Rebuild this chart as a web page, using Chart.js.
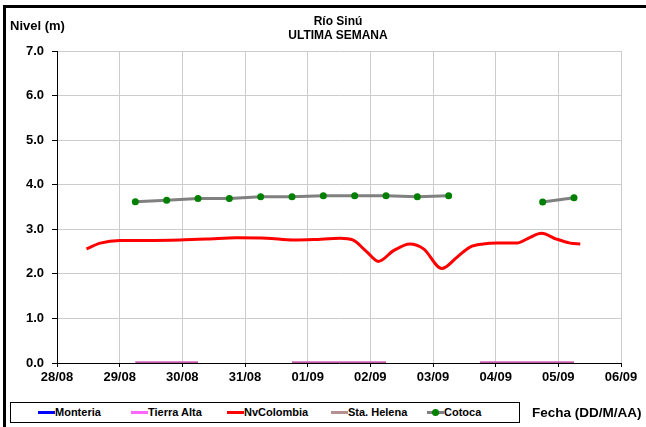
<!DOCTYPE html>
<html>
<head>
<meta charset="utf-8">
<script src="https://cdn.jsdelivr.net/npm/chart.js@4.4.1/dist/chart.umd.min.js"></script>
<style>
  html, body { margin: 0; padding: 0; background: #fff; }
  body { width: 646px; height: 427px; position: relative; overflow: hidden; font-family: "Liberation Sans", Arial, sans-serif; }
  #wrap { position: absolute; left: 0; top: 0; width: 646px; height: 427px; }
  .frameTop { position: absolute; left: 3px; top: 5px; width: 643px; height: 3px; background: #000; }
  .frameLeft { position: absolute; left: 3px; top: 5px; width: 3px; height: 422px; background: #000; }
  .txt { position: absolute; font-weight: bold; color: #000; white-space: nowrap; }
  #legend { position: absolute; left: 10px; top: 402px; width: 508px; height: 19px; border: 1px solid #000; background: #fff; }
  .item { position: absolute; top: 0; height: 19px; font-size: 11px; font-weight: bold; line-height: 19px; white-space: nowrap; }
  .sw { position: absolute; top: 8px; height: 3px; width: 17px; }
  .dot { position: absolute; top: -2px; left: 5px; width: 7px; height: 7px; border-radius: 50%; background: #008000; }
</style>
</head>
<body>
<div id="wrap"><canvas id="c" width="646" height="427"></canvas></div>
<div class="frameTop"></div>
<div class="frameLeft"></div>
<div class="txt" style="left:10px; top:18px; font-size:13px;">Nivel (m)</div>
<div class="txt" style="left:0; width:676px; text-align:center; top:14px; font-size:12px; line-height:14px;">Río Sinú<br>ULTIMA SEMANA</div>
<div id="legend"></div>
<div class="txt" style="left:532px; top:405px; font-size:13.5px;">Fecha (DD/M/AA)</div>
<script>
// ---- data ----
const xTickLabels = ['28/08','29/08','30/08','31/08','01/09','02/09','03/09','04/09','05/09','06/09'];
const yTickValues = [0, 1, 2, 3, 4, 5, 6, 7];

// days since 28/08 00:00
const nvColombiaDays   = [0.47, 0.69, 1.00, 1.43, 1.96, 2.39, 2.87, 3.35, 3.77, 4.09, 4.52, 4.72, 4.94, 5.13, 5.37, 5.63, 5.85, 6.14, 6.38, 6.59, 6.80, 7.02, 7.34, 7.55, 7.73, 7.97, 8.19, 8.35];
const nvColombiaLevels = [2.56, 2.69, 2.75, 2.75, 2.76, 2.78, 2.81, 2.80, 2.76, 2.77, 2.80, 2.76, 2.50, 2.28, 2.52, 2.67, 2.56, 2.12, 2.37, 2.60, 2.67, 2.69, 2.69, 2.82, 2.91, 2.78, 2.69, 2.67];

const halfDayTimes     = [1.25, 1.75, 2.25, 2.75, 3.25, 3.75, 4.25, 4.75, 5.25, 5.75, 6.25, 6.75, 7.25, 7.75, 8.25];
const cotocaLevels     = [3.62, 3.65, 3.69, 3.69, 3.73, 3.73, 3.75, 3.75, 3.75, 3.73, 3.75, null, null, 3.61, 3.71];
const tierraAltaLevels = [0, 0, 0, null, null, 0, 0, 0, 0, null, null, 0, 0, 0, 0];
const staHelenaLevels  = [0, 0, 0, null, null, 0, 0, 0, 0, null, null, 0, 0, 0, 0];
const monteriaLevels   = [];

function pts(xs, ys) { return xs.map((x, i) => ({ x: x, y: ys[i] })); }

const datasets = [
  { label: 'Monteria', data: pts(halfDayTimes, monteriaLevels), borderColor: '#0000ff', borderWidth: 3, pointRadius: 0 },
  { label: 'Tierra Alta', data: pts(halfDayTimes, tierraAltaLevels), borderColor: '#ff66ff', borderWidth: 3, pointRadius: 0 },
  { label: 'NvColombia', data: pts(nvColombiaDays, nvColombiaLevels), borderColor: '#ff0000', borderWidth: 3, pointRadius: 0, cubicInterpolationMode: 'monotone' },
  { label: 'Sta. Helena', order: -1, data: pts(halfDayTimes, staHelenaLevels), borderColor: 'rgba(170,85,125,0.75)', legendColor: '#b49090', borderWidth: 3, pointRadius: 0 },
  { label: 'Cotoca', data: pts(halfDayTimes, cotocaLevels), borderColor: '#808080', borderWidth: 3, pointRadius: 3.5, pointBackgroundColor: '#008000', pointBorderColor: '#008000', pointBorderWidth: 0 }
];

const tickFont = { family: '"Liberation Sans", Arial, sans-serif', size: 13, weight: 'bold' };

const chart = new Chart(document.getElementById('c'), {
  type: 'line',
  data: { datasets: datasets },
  options: {
    responsive: false,
    animation: false,
    spanGaps: false,
    layout: { padding: { left: 0, top: 51, right: 25, bottom: 0 } },
    plugins: { legend: { display: false }, title: { display: false }, tooltip: { enabled: false } },
    scales: {
      x: {
        type: 'linear', min: 0, max: 9,
        afterFit: s => { s.height = 64; },
        afterBuildTicks: s => { s.ticks = xTickLabels.map((_, i) => ({ value: i })); },
        ticks: { font: tickFont, color: '#000', padding: 3, maxRotation: 0, autoSkip: false,
                 callback: v => xTickLabels[v] },
        grid: { color: '#cccccc', lineWidth: 1, tickColor: '#000', tickLength: 4, drawTicks: true },
        border: { color: '#000', width: 1 }
      },
      y: {
        type: 'linear', min: 0, max: 7,
        afterFit: s => { s.width = 57; },
        afterBuildTicks: s => { s.ticks = yTickValues.map(v => ({ value: v })); },
        ticks: { font: tickFont, color: '#000', padding: 8, callback: v => Number(v).toFixed(1) },
        grid: { color: '#cccccc', lineWidth: 1, tickColor: '#000', tickLength: 5 },
        border: { color: '#000', width: 1 }
      }
    }
  }
});

// HTML legend built from the chart's datasets
const legendLefts = [27, 120, 216, 320, 416];
const legend = document.getElementById('legend');
chart.data.datasets.forEach((ds, i) => {
  const item = document.createElement('div');
  item.className = 'item';
  item.style.left = legendLefts[i] + 'px';
  const sw = document.createElement('div');
  sw.className = 'sw';
  sw.style.left = '0px';
  sw.style.background = ds.legendColor || ds.borderColor;
  if (ds.label === 'Cotoca') { const d = document.createElement('div'); d.className = 'dot'; sw.appendChild(d); }
  item.appendChild(sw);
  const t = document.createElement('span');
  t.style.marginLeft = '17px';
  t.textContent = ds.label;
  item.appendChild(t);
  legend.appendChild(item);
});
</script>
</body>
</html>
